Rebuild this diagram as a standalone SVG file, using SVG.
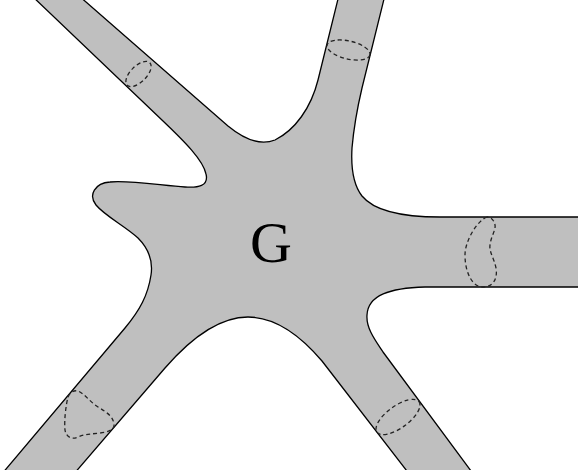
<svg xmlns="http://www.w3.org/2000/svg" width="578" height="470" viewBox="0 0 578 470">
<style>
.body{fill:#bfbfbf;stroke:#000;stroke-width:1.3;stroke-linejoin:round}
.cut{fill:none;stroke:#222;stroke-width:1.3;stroke-dasharray:4 3}
.lbl{font-family:"Liberation Serif","Times New Roman",serif;font-size:58px;fill:#000;text-anchor:middle}
</style>
<rect width="578" height="470" fill="#fff"/>
<g id="body">
<path class="body" d="M 31,-5 L 163,121 C 185,142 203,160 206,174 C 209,186 198,188 185,187 C 165,186 130,180 110,182 C 95,183 88,195 96,205 C 105,216 125,226 138,238 C 150,250 153,262 151,275 C 148,295 140,310 125,328 L 1,475 L 73,475 L 165,368 C 185,345 215,317 248,317 C 275,317 300,335 322,361 L 410,475 L 474,475 L 383,352 C 375,340 366,328 367,315 C 368,295 390,288 425,287 L 583,287 L 583,217 L 440,217 C 405,217 375,212 362,196 C 352,183 351,165 352,148 C 354,125 358,105 362,88 L 385,-5 L 339,-5 L 318,80 C 311,108 295,130 275,140 C 260,146 245,140 228,126 L 78,-5 Z"/>
</g>
<g id="cuts">
<ellipse class="cut" cx="138.5" cy="74" rx="16" ry="8" transform="rotate(-45 138.5 74)"/>
<ellipse class="cut" cx="348.5" cy="50" rx="22" ry="9" transform="rotate(13 348.5 50)"/>
<ellipse class="cut" cx="398" cy="417" rx="26" ry="11" transform="rotate(-36 398 417)"/>
<path class="cut" d="M 487,217 C 478,220 465,240 465,255 C 465,272 472,287 483,287 C 492,287 498,280 496,268 C 494,258 489,252 490,245 C 491,236 496,230 495,225 C 494,220 491,217 487,217 Z"/>
<path class="cut" d="M 68,397 C 70,392 74,390 78,391 C 85,394 90,402 98,407 C 106,412 113,416 114,424 C 115,430 108,432 100,433 C 92,434 85,434 78,437 C 72,440 66,437 65,430 C 64,420 66,405 68,397 Z"/>
</g>
<g id="label">
<text class="lbl" x="271" y="262">G</text>
</g>
</svg>
